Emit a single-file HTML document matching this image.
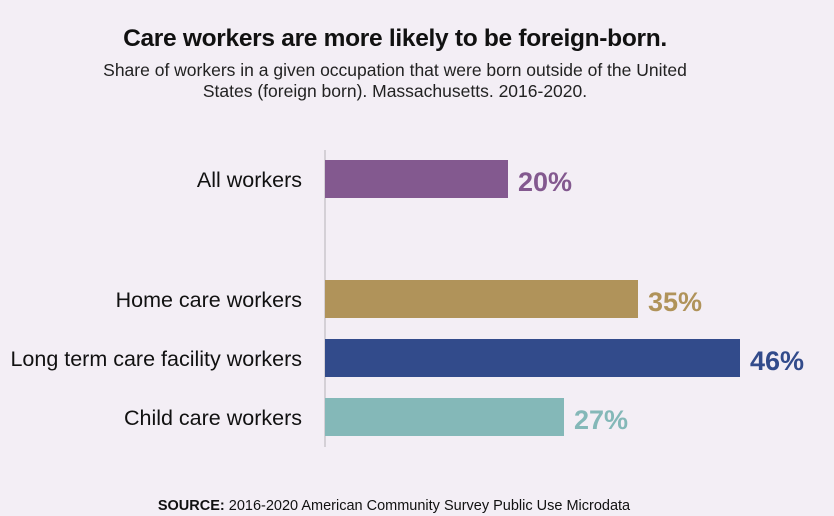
<!DOCTYPE html>
<html><head><meta charset="utf-8"><style>
body{margin:0;width:834px;height:516px;background:#f3eef5;position:relative;overflow:hidden;font-family:"Liberation Sans",sans-serif;color:#111}
.a{position:absolute}
.t{left:0;width:790px;text-align:center;top:25px;font-size:24.5px;font-weight:bold;letter-spacing:-0.3px}
.s{left:0;width:790px;text-align:center;top:60px;font-size:17.5px;line-height:21px;color:#222}
.l{right:532px;font-size:21.5px;text-align:right;white-space:nowrap;line-height:38px;top:2px}
.b{left:325px;height:38px}
.v{font-size:27px;font-weight:bold;line-height:38px}
</style></head><body>
<div class="a t">Care workers are more likely to be foreign-born.</div>
<div class="a s">Share of workers in a given occupation that were born outside of the United<br>States (foreign born). Massachusetts. 2016-2020.</div>
<div class="a" style="left:324px;top:150px;width:2px;height:297px;background:#d4d0d6"></div>
<div class="a l" style="top:161px">All workers</div>
<div class="a b" style="top:160px;width:183px;background:#83598f"></div>
<div class="a v" style="top:163px;left:518px;color:#83598f">20%</div>
<div class="a l" style="top:281px">Home care workers</div>
<div class="a b" style="top:280px;width:313px;background:#b0935a"></div>
<div class="a v" style="top:283px;left:648px;color:#b0935a">35%</div>
<div class="a l" style="top:340px">Long term care facility workers</div>
<div class="a b" style="top:339px;width:415px;background:#324b8b"></div>
<div class="a v" style="top:342px;left:750px;color:#324b8b">46%</div>
<div class="a l" style="top:399px">Child care workers</div>
<div class="a b" style="top:398px;width:239px;background:#84b8b8"></div>
<div class="a v" style="top:401px;left:574px;color:#84b8b8">27%</div>
<div class="a" style="left:0;width:788px;text-align:center;top:498px;font-size:14.5px"><b>SOURCE:</b> 2016-2020 American Community Survey Public Use Microdata</div>
</body></html>
